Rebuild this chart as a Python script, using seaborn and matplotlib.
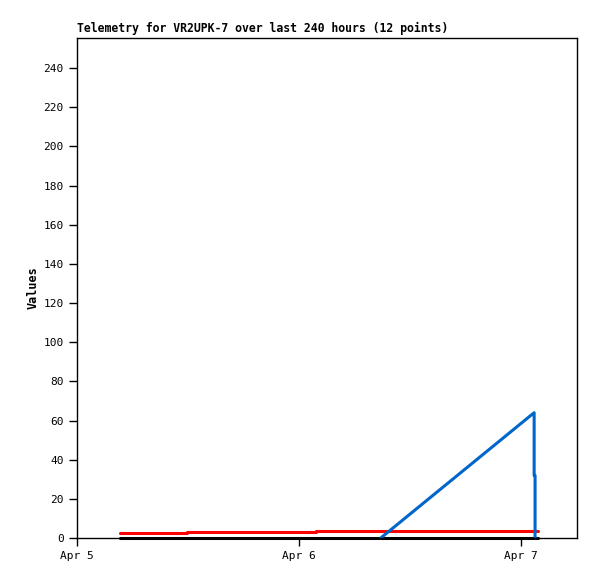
import pandas as pd
import matplotlib
matplotlib.use("Agg")
import matplotlib.pyplot as plt
import matplotlib.dates as mdates
import seaborn as sns

# Дані
red_times = ["2024-04-05 04:39", "2024-04-05 11:53", "2024-04-06 01:48", "2024-04-07 01:51"]
red_values = [2.7, 3.2, 3.7, 3.7]

blue_times = ["2024-04-06 08:50", "2024-04-07 01:25", "2024-04-07 01:25", "2024-04-07 01:31", "2024-04-07 01:31"]
blue_values = [0, 64, 32, 32, 0]

black_times = ["2024-04-05 04:39", "2024-04-07 01:51"]
black_values = [0, 0]

y_ticks = list(range(0, 241, 20))
title = "Telemetry for VR2UPK-7 over last 240 hours (12 points)"

sns.set_style("white")
plt.rcParams['font.family'] = ['DejaVu Sans Mono']
plt.rcParams['text.color'] = 'black'
plt.rcParams['axes.labelcolor'] = 'black'

red = pd.DataFrame({'time': pd.to_datetime(red_times), 'value': red_values})
blue = pd.DataFrame({'time': pd.to_datetime(blue_times), 'value': blue_values})
black = pd.DataFrame({'time': pd.to_datetime(black_times), 'value': black_values})

fig = plt.figure(figsize=(5.97, 5.79), dpi=100)
ax = fig.add_axes([77 / 597, 41 / 579, 500 / 597, 500 / 579])

sns.lineplot(data=black, x='time', y='value', ax=ax, color='black', linewidth=2.2,
             sort=False, clip_on=False)
sns.lineplot(data=red, x='time', y='value', ax=ax, color='#ff0000', linewidth=2.2,
             drawstyle='steps-post', sort=False)
sns.lineplot(data=blue, x='time', y='value', ax=ax, color='#0066cc', linewidth=2.2,
             sort=False, estimator=None, clip_on=False)

ax.set_xlim(pd.Timestamp("2024-04-05 00:00"), pd.Timestamp("2024-04-07 06:03"))
ax.set_ylim(0, 255.4)
ax.set_yticks(y_ticks)
ax.xaxis.set_major_locator(mdates.DayLocator())
ax.xaxis.set_major_formatter(mdates.DateFormatter('%b %-d'))

ax.tick_params(axis='both', direction='out', length=6, width=1, labelsize=8,
               colors='black', bottom=True, left=True)
for s in ax.spines.values():
    s.set_color('black')
    s.set_linewidth(1)

ax.set_xlabel('')
ax.set_ylabel('Values', fontsize=8.5, fontweight='bold', labelpad=3)
ax.set_title(title, loc='left', fontsize=8.3, fontweight='bold', pad=4, color='black')

fig.savefig('out.png', dpi=100)
